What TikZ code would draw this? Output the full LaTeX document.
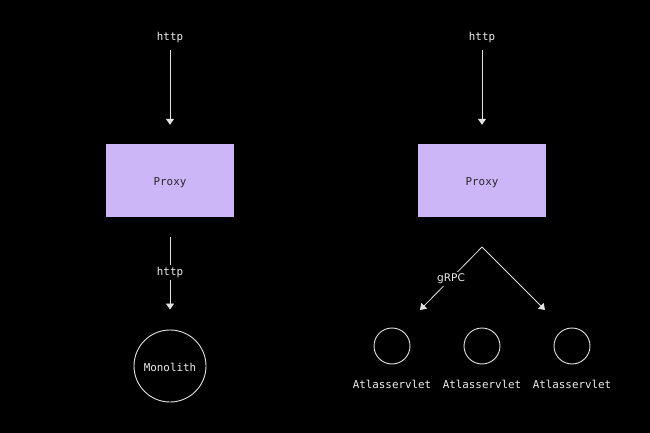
\documentclass[tikz,border=0pt]{standalone}
\usepackage{fontspec}
\setmainfont{DejaVu Sans}
\setmonofont{DejaVu Sans Mono}
\usetikzlibrary{arrows.meta}
\definecolor{boxfill}{HTML}{CDB6F8}
\definecolor{linecol}{HTML}{E2E2E2}
\definecolor{txt}{HTML}{EDEDED}
\tikzset{
  lbl/.style={text=txt, font=\ttfamily\fontsize{10.9}{12}\selectfont, inner sep=1.5bp},
  proxybox/.style={fill=boxfill, draw=none, minimum width=128bp, minimum height=73bp, inner sep=0pt},
  proxytext/.style={font=\ttfamily\fontsize{10.9}{12}\selectfont, text=black!85, inner sep=0pt},
  conn/.style={draw=linecol, line width=0.8bp, -{Triangle[width=8bp,length=6bp]}},
  ring/.style={circle, draw=linecol, line width=0.9bp, inner sep=0pt},
  gap/.style={fill=black, inner sep=2bp}
}
\begin{document}
\begin{tikzpicture}[x=1bp,y=-1bp]
\fill[black] (0,0) rectangle (650,433);
\useasboundingbox (0,0) rectangle (650,433);
% left
\node[lbl] (httpL) at (170,37.5) {http};
\node[proxybox] (proxyL) at (170,180.5) {};
\node[proxytext] (proxyLt) at (170,182.5) {Proxy};
\node[ring, minimum size=72bp] (mono) at (170,366) {};
\node[lbl] (monot) at (170,367.5) {Monolith};
\draw[conn, shorten <=6bp, shorten >=19bp] (httpL.south) -- (proxyL.north);
\draw[conn, shorten <=20bp, shorten >=20bp] (proxyL.south) -- (mono.north);
\node[lbl, gap] (httpM) at (170,272.5) {http};
% right
\node[lbl] (httpR) at (482,37.5) {http};
\node[proxybox] (proxyR) at (482,180.5) {};
\node[proxytext] (proxyRt) at (482,182.5) {Proxy};
\draw[conn, shorten <=6bp, shorten >=19bp] (httpR.south) -- (proxyR.north);
\coordinate (apex) at (482,247);
\coordinate (tipL) at (420,310);
\coordinate (tipR) at (545,310);
\draw[conn] (apex) -- (tipL);
\draw[conn] (apex) -- (tipR);
\node[gap, text=txt, font=\fontsize{10.6}{12}\selectfont] (grpc) at (451,279) {gRPC};
\foreach \n/\x in {a/392,b/482,c/572}{
  \node[ring, minimum size=36bp] (srv\n) at (\x,346) {};
  \node[lbl] (srvlbl\n) at (\x,384.5) {Atlasservlet};
}
\end{tikzpicture}
\end{document}
